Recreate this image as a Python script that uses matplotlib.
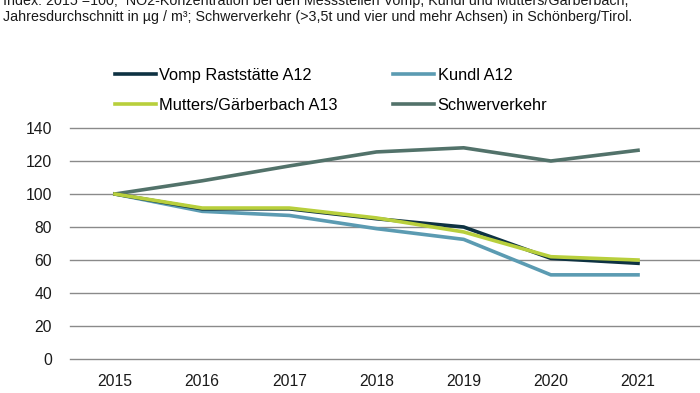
import matplotlib
matplotlib.use("Agg")
import matplotlib.pyplot as plt

plt.rcParams['font.family'] = ['Liberation Sans', 'DejaVu Sans']

years = [2015, 2016, 2017, 2018, 2019, 2020, 2021]
vomp = [100, 91, 91, 85, 80, 61, 58]
kundl = [100, 89.5, 87, 79, 72.5, 51, 51]
mutters = [100, 91.5, 91.5, 85.5, 77, 62, 60]
schwer = [100, 108, 117, 125.5, 128, 120, 126.5]

series_names = ["Vomp Raststätte A12", "Kundl A12", "Mutters/Gärberbach A13", "Schwerverkehr"]
colors = ["#0e3242", "#5b9bb2", "#b8cf3c", "#52726a"]
yticks = [0, 20, 40, 60, 80, 100, 120, 140]

fig = plt.figure(figsize=(7, 3.93), dpi=100)
ax = fig.add_axes([0.1, 1 - 359 / 393, 0.9, (359 - 128) / 393])

ax.set_xlim(2014.484, 2021.711)
ax.set_ylim(0, 140)
ax.set_yticks(yticks)
ax.set_xticks(years)
ax.set_xticklabels([str(y) for y in years])
ax.grid(axis='y', color='#8a8a8a', linewidth=1)
for gl in ax.get_ygridlines():
    gl.set_clip_on(False)
ax.set_axisbelow(True)
for s in ax.spines.values():
    s.set_visible(False)
ax.tick_params(axis='both', length=0, labelsize=11.3, colors='#1a1a1a')
ax.tick_params(axis='y', pad=13)
ax.tick_params(axis='x', pad=11)

data = [vomp, kundl, mutters, schwer]
order = [3, 1, 0, 2]
lines = {}
for i in order:
    l, = ax.plot(years, data[i], color=colors[i], linewidth=2.6, solid_joinstyle='round',
                 label=series_names[i])
    lines[i] = l

handles = [lines[0], lines[2], lines[1], lines[3]]
labels = [series_names[0], series_names[2], series_names[1], series_names[3]]
leg = fig.legend(handles, labels, ncol=2, loc='upper left', bbox_to_anchor=(115 / 700, 1 - 68 / 393),
                 frameon=False, fontsize=11.8, handlelength=2.5, handletextpad=0.2,
                 columnspacing=3.4, labelspacing=0.9, borderaxespad=0, borderpad=0)

fig.text(0.004, 1 - 1 / 393,
         "Index: 2015 =100;  NO2-Konzentration bei den Messstellen Vomp, Kundl und Mutters/Gärberbach,",
         fontsize=10.3, va='center', ha='left', color='#1a1a1a')
fig.text(0.004, 1 - 17 / 393,
         "Jahresdurchschnitt in µg / m³; Schwerverkehr (>3,5t und vier und mehr Achsen) in Schönberg/Tirol.",
         fontsize=10.3, va='center', ha='left', color='#1a1a1a')

fig.savefig("out.png", dpi=100)
